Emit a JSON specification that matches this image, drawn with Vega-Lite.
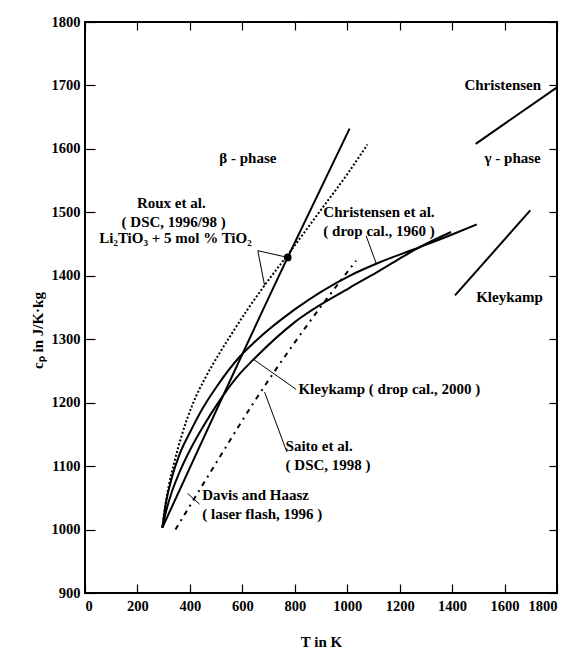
{
  "$schema": "https://vega.github.io/schema/vega-lite/v6.json",
  "width": 472,
  "height": 571,
  "autosize": {"type": "none"},
  "padding": {"left": 85, "top": 22, "right": 7, "bottom": 58},
  "background": "white",
  "config": {
    "view": {"stroke": "black", "strokeWidth": 2},
    "font": "Liberation Serif",
    "axis": {
      "grid": false,
      "domain": false,
      "tickColor": "black",
      "tickWidth": 1.2,
      "labelFont": "Liberation Serif",
      "labelFontWeight": "bold",
      "labelFontSize": 14.5,
      "labelColor": "black",
      "titleFont": "Liberation Serif",
      "titleFontWeight": "bold",
      "titleFontSize": 15,
      "titleColor": "black"
    }
  },
  "datasets": {
    "curves": [
      {"s": "Roux line", "T": 295, "cp": 1003},
      {"s": "Roux line", "T": 773, "cp": 1429},
      {"s": "Roux line", "T": 1009, "cp": 1632},
      {"s": "Christensen et al.", "T": 295, "cp": 1003},
      {"s": "Christensen et al.", "T": 310, "cp": 1045},
      {"s": "Christensen et al.", "T": 330, "cp": 1080},
      {"s": "Christensen et al.", "T": 360, "cp": 1118},
      {"s": "Christensen et al.", "T": 400, "cp": 1153},
      {"s": "Christensen et al.", "T": 450, "cp": 1192},
      {"s": "Christensen et al.", "T": 500, "cp": 1224},
      {"s": "Christensen et al.", "T": 589, "cp": 1272},
      {"s": "Christensen et al.", "T": 640, "cp": 1293},
      {"s": "Christensen et al.", "T": 800, "cp": 1347},
      {"s": "Christensen et al.", "T": 1009, "cp": 1400},
      {"s": "Christensen et al.", "T": 1111, "cp": 1419},
      {"s": "Christensen et al.", "T": 1276, "cp": 1445},
      {"s": "Christensen et al.", "T": 1400, "cp": 1465},
      {"s": "Christensen et al.", "T": 1494, "cp": 1481},
      {"s": "Kleykamp", "T": 295, "cp": 1003},
      {"s": "Kleykamp", "T": 310, "cp": 1030},
      {"s": "Kleykamp", "T": 330, "cp": 1058},
      {"s": "Kleykamp", "T": 360, "cp": 1090},
      {"s": "Kleykamp", "T": 400, "cp": 1125},
      {"s": "Kleykamp", "T": 450, "cp": 1162},
      {"s": "Kleykamp", "T": 500, "cp": 1195},
      {"s": "Kleykamp", "T": 589, "cp": 1245},
      {"s": "Kleykamp", "T": 640, "cp": 1267},
      {"s": "Kleykamp", "T": 800, "cp": 1327},
      {"s": "Kleykamp", "T": 1009, "cp": 1381},
      {"s": "Kleykamp", "T": 1111, "cp": 1405},
      {"s": "Kleykamp", "T": 1200, "cp": 1427},
      {"s": "Kleykamp", "T": 1276, "cp": 1445},
      {"s": "Kleykamp", "T": 1396, "cp": 1469},
      {"s": "Christensen gamma", "T": 1490, "cp": 1608},
      {"s": "Christensen gamma", "T": 1800, "cp": 1697},
      {"s": "Kleykamp gamma", "T": 1411, "cp": 1369},
      {"s": "Kleykamp gamma", "T": 1698, "cp": 1503}
    ],
    "dotted": [
      {"s": "Roux dotted", "T": 295, "cp": 1003},
      {"s": "Roux dotted", "T": 305, "cp": 1035},
      {"s": "Roux dotted", "T": 320, "cp": 1070},
      {"s": "Roux dotted", "T": 340, "cp": 1105},
      {"s": "Roux dotted", "T": 370, "cp": 1150},
      {"s": "Roux dotted", "T": 411, "cp": 1198},
      {"s": "Roux dotted", "T": 460, "cp": 1240},
      {"s": "Roux dotted", "T": 510, "cp": 1276},
      {"s": "Roux dotted", "T": 557, "cp": 1307},
      {"s": "Roux dotted", "T": 620, "cp": 1347},
      {"s": "Roux dotted", "T": 685, "cp": 1385},
      {"s": "Roux dotted", "T": 773, "cp": 1433},
      {"s": "Roux dotted", "T": 900, "cp": 1504},
      {"s": "Roux dotted", "T": 1000, "cp": 1560},
      {"s": "Roux dotted", "T": 1077, "cp": 1607}
    ],
    "dashdot": [
      {"s": "Saito / Davis", "T": 345, "cp": 1000},
      {"s": "Saito / Davis", "T": 500, "cp": 1105},
      {"s": "Saito / Davis", "T": 640, "cp": 1198},
      {"s": "Saito / Davis", "T": 800, "cp": 1295},
      {"s": "Saito / Davis", "T": 1034, "cp": 1424}
    ],
    "leaders": [
      {"T": 659, "cp": 1439.5, "T2": 773, "cp2": 1429},
      {"T": 659, "cp": 1439.5, "T2": 685, "cp2": 1384.6},
      {"T": 1072, "cp": 1463, "T2": 1111, "cp2": 1419},
      {"T": 805, "cp": 1221, "T2": 640, "cp2": 1269},
      {"T": 770, "cp": 1122, "T2": 685, "cp2": 1216.5},
      {"T": 391, "cp": 1057, "T2": 437, "cp2": 1040}
    ],
    "dot": [{"T": 773, "cp": 1429}],
    "labelsCenter": [
      {"text": "β - phase", "T": 621, "cp": 1585},
      {"text": "Roux et al.", "T": 329, "cp": 1514},
      {"text": "( DSC, 1996/98 )", "T": 338, "cp": 1484},
      {"text": "Li₂TiO₃ + 5 mol % TiO₂", "T": 345, "cp": 1460},
      {"text": "Christensen", "T": 1593, "cp": 1700},
      {"text": "γ - phase", "T": 1631, "cp": 1585},
      {"text": "Kleykamp", "T": 1619, "cp": 1367}
    ],
    "labelsLeft": [
      {"text": "Christensen et al.", "T": 909, "cp": 1501},
      {"text": "( drop cal., 1960 )", "T": 909, "cp": 1470},
      {"text": "Kleykamp ( drop cal., 2000 )", "T": 814, "cp": 1221},
      {"text": "Saito et al.", "T": 765, "cp": 1132},
      {"text": "( DSC, 1998 )", "T": 765, "cp": 1102},
      {"text": "Davis and Haasz", "T": 447, "cp": 1055},
      {"text": "( laser flash, 1996 )", "T": 447, "cp": 1025}
    ]
  },
  "layer": [
    {
      "data": {"name": "curves"},
      "mark": {"type": "line", "color": "black", "strokeWidth": 2, "interpolate": "monotone"},
      "encoding": {
        "x": {"field": "T", "type": "quantitative", "scale": {"domain": [0, 1800], "nice": false},
          "axis": {"orient": "bottom", "values": [0, 200, 400, 600, 800, 1000, 1200, 1400, 1600, 1800], "format": "d", "tickSize": -9, "labelPadding": 15, "title": "T in K", "titleY": 48, "titleBaseline": "middle"}},
        "y": {"field": "cp", "type": "quantitative", "scale": {"domain": [900, 1800], "nice": false, "zero": false},
          "axis": {"orient": "left", "values": [900, 1000, 1100, 1200, 1300, 1400, 1500, 1600, 1700, 1800], "format": "d", "tickSize": -10, "labelPadding": 15, "title": "cₚ in J/K·kg", "titleX": -48, "titleY": 308, "titleAngle": -90, "titleAlign": "center", "titleBaseline": "middle"}},
        "detail": {"field": "s"}
      }
    },
    {
      "data": {"name": "dotted"},
      "mark": {"type": "line", "color": "black", "strokeWidth": 2, "strokeDash": [2, 2], "interpolate": "monotone"},
      "encoding": {
        "x": {"field": "T", "type": "quantitative",
          "axis": {"orient": "top", "values": [0, 200, 400, 600, 800, 1000, 1200, 1400, 1600, 1800], "tickSize": -8, "labels": false, "title": null}},
        "y": {"field": "cp", "type": "quantitative",
          "axis": {"orient": "right", "values": [900, 1000, 1100, 1200, 1300, 1400, 1500, 1600, 1700, 1800], "tickSize": -8, "labels": false, "title": null}}
      }
    },
    {
      "data": {"name": "dashdot"},
      "mark": {"type": "line", "color": "black", "strokeWidth": 2, "strokeDash": [5, 5, 2, 5], "interpolate": "monotone"},
      "encoding": {
        "x": {"field": "T", "type": "quantitative", "axis": null},
        "y": {"field": "cp", "type": "quantitative", "axis": null}
      }
    },
    {
      "data": {"name": "leaders"},
      "mark": {"type": "rule", "color": "black", "strokeWidth": 1},
      "encoding": {
        "x": {"field": "T", "type": "quantitative", "axis": null},
        "y": {"field": "cp", "type": "quantitative", "axis": null},
        "x2": {"field": "T2"},
        "y2": {"field": "cp2"}
      }
    },
    {
      "data": {"name": "dot"},
      "mark": {"type": "point", "filled": true, "color": "black", "size": 60, "opacity": 1},
      "encoding": {
        "x": {"field": "T", "type": "quantitative", "axis": null},
        "y": {"field": "cp", "type": "quantitative", "axis": null}
      }
    },
    {
      "data": {"name": "labelsCenter"},
      "mark": {"type": "text", "font": "Liberation Serif", "fontWeight": "bold", "fontSize": 15, "align": "center", "baseline": "middle", "color": "black"},
      "encoding": {
        "x": {"field": "T", "type": "quantitative", "axis": null},
        "y": {"field": "cp", "type": "quantitative", "axis": null},
        "text": {"field": "text"}
      }
    },
    {
      "data": {"name": "labelsLeft"},
      "mark": {"type": "text", "font": "Liberation Serif", "fontWeight": "bold", "fontSize": 15, "align": "left", "baseline": "middle", "color": "black"},
      "encoding": {
        "x": {"field": "T", "type": "quantitative", "axis": null},
        "y": {"field": "cp", "type": "quantitative", "axis": null},
        "text": {"field": "text"}
      }
    }
  ],
  "resolve": {"axis": {"x": "independent", "y": "independent"}}
}
